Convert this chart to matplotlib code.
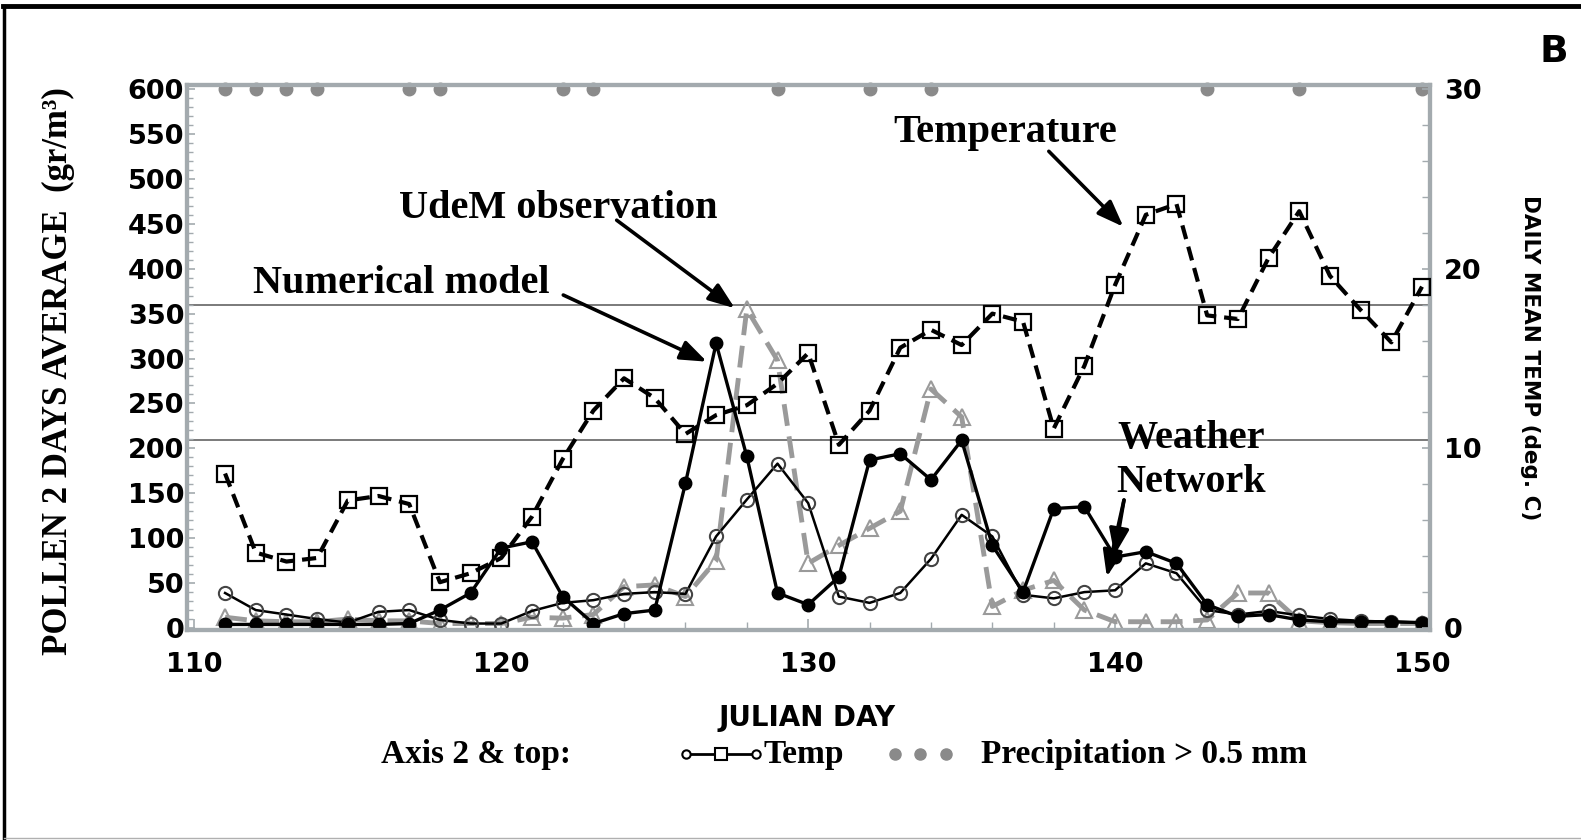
import matplotlib
matplotlib.use('Agg')
import matplotlib.pyplot as plt
from matplotlib.lines import Line2D
from matplotlib.ticker import MultipleLocator

# ---------------- data ----------------
days = list(range(111, 151))
temp = [8.6, 4.2, 3.7, 3.9, 7.1, 7.35, 6.9, 2.55, 3.05, 3.9,
        6.2, 9.4, 12.1, 13.9, 12.8, 10.8, 11.85, 12.4, 13.6, 15.3,
        10.2, 12.1, 15.6, 16.6, 15.75, 17.5, 17.05, 11.1, 14.6, 19.1,
        23.0, 23.6, 17.4, 17.2, 20.6, 23.2, 19.6, 17.7, 15.9, 19.0]
numerical = [4, 4, 4, 4, 4, 4, 5, 20, 39, 89,
             96, 35, 5, 16, 20, 161, 317, 191, 39, 26,
             57, 187, 194, 165, 209, 92, 40, 133, 135, 79,
             85, 72, 26, 13, 15, 9, 7, 7, 7, 6]
weather = [39, 20, 15, 10, 6, 18, 20, 9, 5, 5,
           19, 28, 31, 38, 40, 38, 102, 143, 183, 139,
           35, 28, 39, 77, 126, 102, 37, 33, 40, 42,
           72, 61, 20, 15, 19, 14, 10, 8, 7, 6]
udem = [12, 8, 7, 7, 10, 8, 8, 5, 5, 5,
        12, 11, 15, 46, 48, 35, 75, 355, 298, 72,
        92, 111, 130, 266, 235, 24, 42, 53, 20, 7,
        7, 7, 9, 39, 39, 8, 6, 5, 5, 5]
precip_days = [111, 112, 113, 114, 117, 118, 122, 123, 129, 132, 134, 143, 146, 150]
precip_level = 600
pollen_ticks = list(range(0, 601, 50))
temp_ticks = [0, 10, 20, 30]
day_ticks = [110, 120, 130, 140, 150]
ref_levels = [209, 360]

# ---------------- figure ----------------
W, H, DPI = 1581, 840, 100
plt.rcParams['font.family'] = ['DejaVu Sans']
plt.rcParams['font.weight'] = 'bold'
SERIF = ['Liberation Serif', 'DejaVu Serif']
GREY_SPINE = '#a3aaae'

fig = plt.figure(figsize=(W / DPI, H / DPI), dpi=DPI)
fig.patch.set_facecolor('white')
L, R, B, T = 187, 1430, 630, 85
ax = fig.add_axes([L / W, 1 - B / H, (R - L) / W, (B - T) / H])
ax.set_xlim(109.76, 150.26)
ax.set_ylim(-2.2, 604.5)
ax2 = ax.twinx()
ax2.set_ylim(-2.2 / 20, 604.5 / 20)

for a in (ax, ax2):
    for sp in a.spines.values():
        sp.set_color(GREY_SPINE)
        sp.set_linewidth(3)

# reference lines
for lvl in ref_levels:
    ax.axhline(lvl, color='#707070', lw=1.3, zorder=1)

# series
ax.plot(days, udem, color='#9a9a9a', lw=3.5, ls=(0, (4.5, 2.2)),
        marker='^', ms=11, mfc='none', mec='#9a9a9a', mew=1.5, zorder=2)
ax.plot(days, weather, color='black', lw=1.8, marker='o', ms=9.5,
        mfc='none', mec='#444444', mew=1.5, zorder=3)
ax.plot(days, numerical, color='black', lw=2.4, marker='o', ms=9,
        mfc='black', mec='black', zorder=4)
ax.plot(precip_days, [precip_level] * len(precip_days), ls='none', marker='o',
        ms=9, color='#8a8a8a', clip_on=False, zorder=5)
ax2.plot(days, temp, color='black', lw=3, ls=(0, (3.4, 1.9)), marker='s',
         ms=11.5, mfc='none', mec='black', mew=1.6, zorder=5)

# ticks
ax.set_yticks(pollen_ticks)
ax.yaxis.set_minor_locator(MultipleLocator(10))
ax.set_xticks(day_ticks)
ax.xaxis.set_minor_locator(MultipleLocator(2))
ax.tick_params(axis='y', which='major', direction='in', length=6, width=1.2,
               color=GREY_SPINE, labelsize=19.5, pad=2)
ax.tick_params(axis='y', which='minor', direction='in', length=4, width=1,
               color=GREY_SPINE)
ax.tick_params(axis='x', which='major', direction='in', length=8, width=1.2,
               color=GREY_SPINE, labelsize=19.5, pad=16)
ax.tick_params(axis='x', which='minor', direction='in', length=6, width=1,
               color=GREY_SPINE)
ax2.set_yticks(temp_ticks)
ax2.yaxis.set_minor_locator(MultipleLocator(2))
ax2.tick_params(axis='y', which='major', direction='in', length=6, width=1.2,
                color=GREY_SPINE, labelsize=19.5, pad=10)
ax2.tick_params(axis='y', which='minor', direction='in', length=6, width=1,
                color=GREY_SPINE)

# axis labels
fig.text(58 / W, 1 - 371 / H, 'POLLEN 2 DAYS AVERAGE  (gr/m\u00b3)', rotation=90,
         ha='center', va='center', family=SERIF, fontweight='bold', fontsize=25)
fig.text(1530 / W, 1 - 358 / H, 'DAILY MEAN TEMP (deg. C)', rotation=270,
         ha='center', va='center', fontweight='bold', fontsize=15.5)
fig.text(807 / W, 1 - 718 / H, 'JULIAN DAY', ha='center', va='center',
         fontweight='bold', fontsize=20)
fig.text(1554 / W, 1 - 52 / H, 'B', ha='center', va='center',
         fontweight='bold', fontsize=27)

# annotations
afs = 29
ax.text(136.42, 552, 'Temperature', ha='center', va='center', family=SERIF,
        fontweight='bold', fontsize=afs)
ax.text(121.85, 466.5, 'UdeM observation', ha='center', va='center', family=SERIF,
        fontweight='bold', fontsize=afs)
ax.text(116.74, 384, 'Numerical model', ha='center', va='center', family=SERIF,
        fontweight='bold', fontsize=afs)
ax.text(142.48, 186, 'Weather\nNetwork', ha='center', va='center', family=SERIF,
        fontweight='bold', fontsize=afs, linespacing=1.25)

arrows = [((137.84, 530.7), (140.27, 446.7)),
          ((123.76, 454.0), (127.61, 356.0)),
          ((122.02, 370.7), (126.70, 296.5)),
          ((140.29, 142.5), (139.98, 81.0)),
          ((140.29, 142.5), (139.73, 57.0))]
for start, tip in arrows:
    ax.annotate('', xy=tip, xytext=start, annotation_clip=False,
                arrowprops=dict(arrowstyle='-|>,head_length=0.8,head_width=0.3',
                                mutation_scale=20, color='black', lw=2.6,
                                shrinkA=0, shrinkB=0), zorder=6)

# bottom legend row
ly = 1 - 754 / H
lfs = 24
fig.text(381 / W, ly, 'Axis 2 & top:', ha='left', va='center', family=SERIF,
         fontweight='bold', fontsize=lfs)
fig.add_artist(Line2D([686 / W, 756 / W], [ly, ly], transform=fig.transFigure,
                      color='black', lw=2))
fig.add_artist(Line2D([686 / W, 756 / W], [ly, ly], transform=fig.transFigure,
                      ls='none', marker='o', ms=6, mfc='white', mec='black', mew=1.5))
fig.add_artist(Line2D([721 / W], [ly], transform=fig.transFigure, ls='none',
                      marker='s', ms=8, mfc='white', mec='black', mew=1.5))
fig.text(763 / W, ly, 'Temp', ha='left', va='center', family=SERIF,
         fontweight='bold', fontsize=lfs)
fig.add_artist(Line2D([895 / W, 920 / W, 946 / W], [ly] * 3, transform=fig.transFigure,
                      ls='none', marker='o', ms=8, color='#8a8a8a'))
fig.text(981 / W, ly, 'Precipitation > 0.5 mm', ha='left', va='center', family=SERIF,
         fontweight='bold', fontsize=lfs)

# outer frame
fig.add_artist(Line2D([3 / W, 1], [1 - 6 / H, 1 - 6 / H], transform=fig.transFigure,
                      color='black', lw=3.5))
fig.add_artist(Line2D([4 / W, 4 / W], [1 - 6 / H, 0], transform=fig.transFigure,
                      color='black', lw=2.5))
fig.add_artist(Line2D([4 / W, 1], [1 - 838 / H, 1 - 838 / H], transform=fig.transFigure,
                      color='#b0b0b0', lw=1))

fig.savefig('out.png', dpi=DPI)
